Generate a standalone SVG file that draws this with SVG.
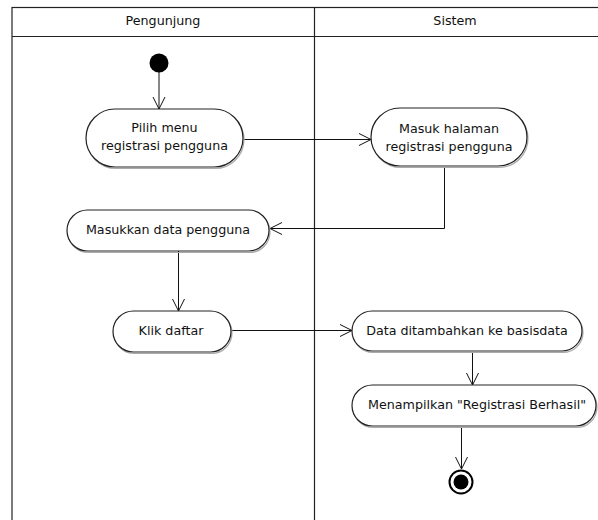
<svg xmlns="http://www.w3.org/2000/svg" width="598" height="520" viewBox="0 0 598 520">
<defs>
<marker id="open" viewBox="0 0 14 14" refX="12" refY="7" markerWidth="14" markerHeight="14" markerUnits="userSpaceOnUse" orient="auto">
<path d="M0,1 L12,7 L0,13" fill="none" stroke="#111" stroke-width="1"/>
</marker>
</defs>
<style>
text{font-family:"DejaVu Sans",Verdana,sans-serif;font-size:12.7px;fill:#111;text-anchor:middle}
.act{fill:#fff;stroke:#222;stroke-width:1.2}
.sh{fill:none;stroke:#aaa;stroke-width:1.2}
.lane{fill:none;stroke:#222;stroke-width:1.2}
.edge{fill:none;stroke:#111;stroke-width:1;marker-end:url(#open)}
</style>
<rect width="598" height="520" fill="#fff"/>
<g id="swimlanes">
<rect class="lane" x="12" y="7.5" width="600" height="530"/>
<line class="lane" x1="12" y1="36.5" x2="598" y2="36.5"/>
<line class="lane" x1="314.5" y1="7.5" x2="314.5" y2="520"/>
<text x="163" y="25">Pengunjung</text>
<text x="455" y="25">Sistem</text>
</g>
<g id="connectors">
<line class="edge" x1="159" y1="72" x2="159" y2="109"/>
<line class="edge" x1="244" y1="139.5" x2="371" y2="139.5"/>
<polyline class="edge" points="444.5,167 444.5,228.5 270,228.5"/>
<line class="edge" x1="178.5" y1="251" x2="178.5" y2="311"/>
<line class="edge" x1="232" y1="330.5" x2="352" y2="330.5"/>
<line class="edge" x1="472.5" y1="352" x2="472.5" y2="385"/>
<line class="edge" x1="461.5" y1="427" x2="461.5" y2="469"/>
</g>
<g id="start">
<circle cx="159" cy="63" r="9.5" fill="#000"/>
</g>
<g id="pilih">
<rect class="sh" x="87" y="110.5" width="157" height="58" rx="29"/>
<rect class="act" x="86" y="109" width="157" height="58" rx="29"/>
<text x="164.5" y="132">Pilih menu</text>
<text x="164.5" y="150">registrasi pengguna</text>
</g>
<g id="masuk">
<rect class="sh" x="372" y="109.5" width="156" height="58" rx="29"/>
<rect class="act" x="371" y="108" width="156" height="58" rx="29"/>
<text x="449" y="133">Masuk halaman</text>
<text x="449" y="151">registrasi pengguna</text>
</g>
<g id="masukkan">
<rect class="sh" x="68" y="211.5" width="202" height="41" rx="20.5"/>
<rect class="act" x="67" y="210" width="202" height="41" rx="20.5"/>
<text x="168" y="234">Masukkan data pengguna</text>
</g>
<g id="klik">
<rect class="sh" x="114" y="312.5" width="118" height="41" rx="20.5"/>
<rect class="act" x="113" y="311" width="118" height="41" rx="20.5"/>
<text x="171" y="335">Klik daftar</text>
</g>
<g id="data">
<rect class="sh" x="353" y="312.5" width="230" height="40" rx="20"/>
<rect class="act" x="352" y="311" width="230" height="40" rx="20"/>
<text x="467" y="335">Data ditambahkan ke basisdata</text>
</g>
<g id="menampilkan">
<rect class="sh" x="353" y="386.5" width="244" height="41" rx="20.5"/>
<rect class="act" x="352" y="385" width="244" height="41" rx="20.5"/>
<text x="477" y="409">Menampilkan "Registrasi Berhasil"</text>
</g>
<g id="end">
<circle cx="461" cy="482" r="11.5" fill="#fff" stroke="#000" stroke-width="2"/>
<circle cx="461" cy="482" r="7.5" fill="#000"/>
</g>
</svg>
